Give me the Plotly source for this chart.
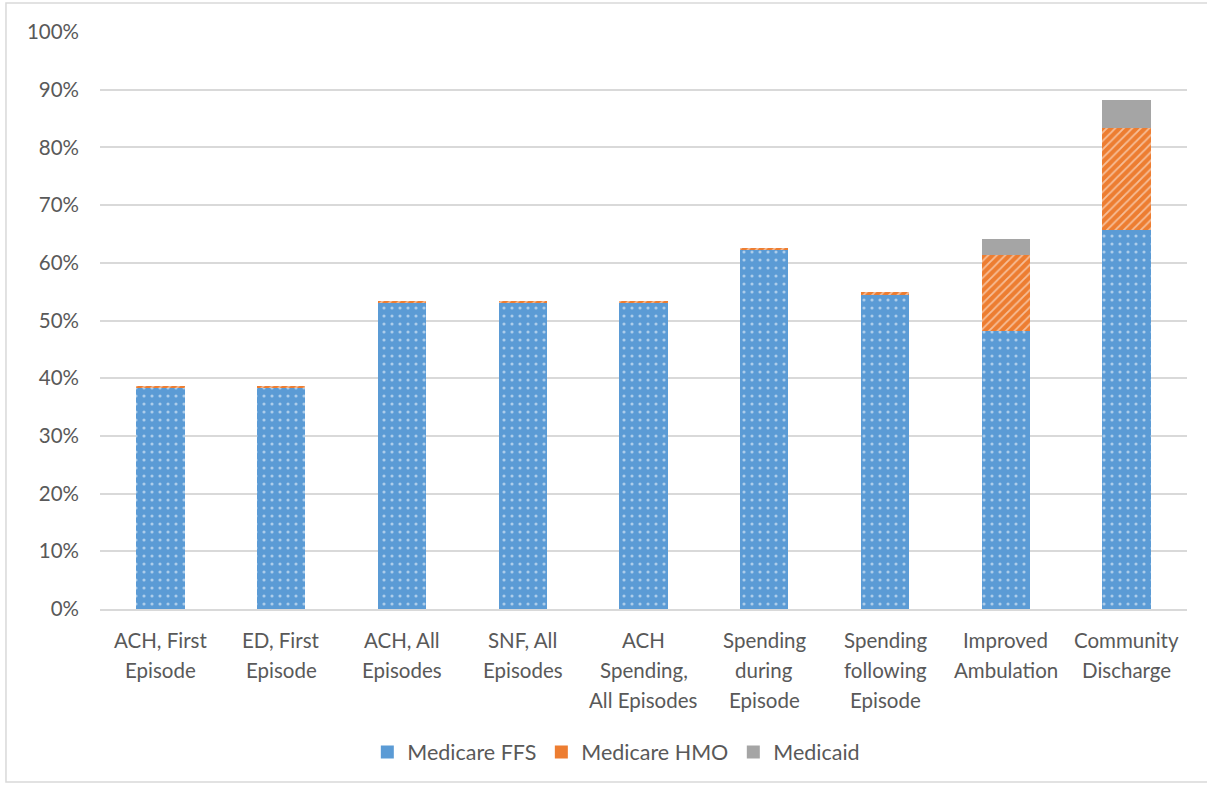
import plotly.graph_objects as go

# Payer mix by outcome measure (share of episodes, %)
categories = [
    "ACH, First<br>Episode",
    "ED, First<br>Episode",
    "ACH, All<br>Episodes",
    "SNF, All<br>Episodes",
    "ACH<br>Spending,<br>All Episodes",
    "Spending<br>during<br>Episode",
    "Spending<br>following<br>Episode",
    "Improved<br>Ambulation",
    "Community<br>Discharge",
]
medicare_ffs = [38.4, 38.4, 53.0, 53.0, 53.0, 62.2, 54.5, 48.2, 65.7]
medicare_hmo = [0.3, 0.3, 0.4, 0.4, 0.4, 0.4, 0.4, 13.15, 17.6]
medicaid = [0.0, 0.0, 0.0, 0.0, 0.0, 0.0, 0.0, 2.75, 5.0]
y_ticks = list(range(0, 101, 10))
y_tick_text = [f"{v}%" for v in y_ticks]

BLUE = "#5b9bd5"
ORANGE = "#ed7d31"
GREY = "#a5a5a5"
TEXT = "#595959"
GRID = "#d9d9d9"
FONT = "Lato, 'Open Sans', sans-serif"

xs = list(range(len(categories)))

fig = go.Figure()
fig.add_trace(go.Bar(
    x=xs, y=medicare_ffs, name="Medicare FFS", showlegend=False,
    marker=dict(color=BLUE, line=dict(width=0),
                pattern=dict(shape=".", fgcolor="white", bgcolor=BLUE,
                             size=8, solidity=0.12)),
))
fig.add_trace(go.Bar(
    x=xs, y=medicare_hmo, name="Medicare HMO", showlegend=False,
    marker=dict(color=ORANGE, line=dict(width=0),
                pattern=dict(shape="/", fgcolor="white", bgcolor=ORANGE,
                             size=6, solidity=0.3)),
))
fig.add_trace(go.Bar(
    x=xs, y=medicaid, name="Medicaid", showlegend=False,
    marker=dict(color=GREY, line=dict(width=0)),
))

# Solid square swatches for the legend
for name, col in [("Medicare FFS", BLUE), ("Medicare HMO", ORANGE), ("Medicaid", GREY)]:
    fig.add_trace(go.Scatter(x=[None], y=[None], name=name, mode="markers",
                             marker=dict(color=col, symbol="square", size=13)))

# Category labels, one annotation per line for wider line spacing
for i, lab in enumerate(categories):
    for j, line in enumerate(lab.split("<br>")):
        fig.add_annotation(
            x=i, xref="x", y=0, yref="paper", yanchor="middle",
            yshift=-31 - 30 * j, text=line, showarrow=False,
            font=dict(family=FONT, size=20.5, color=TEXT),
        )

# Outer chart border
fig.add_shape(type="rect", xref="paper", yref="paper",
              x0=-0.0865, x1=1.03, y0=-0.2998, y1=1.0503,
              line=dict(color=GRID, width=1.5), layer="below")

fig.update_layout(
    width=1207, height=786,
    margin=dict(l=100, r=20, t=32, b=177),
    paper_bgcolor="white", plot_bgcolor="white",
    barmode="stack", bargap=0.6,
    font=dict(family=FONT, size=18, color=TEXT),
    legend=dict(orientation="h", x=0.475, xanchor="center",
                y=-0.248, yanchor="middle", traceorder="normal",
                font=dict(family=FONT, size=21.5, color=TEXT),
                itemwidth=30),
    xaxis=dict(range=[-0.5, len(categories) - 0.5], showticklabels=False,
               showgrid=False, zeroline=False, showline=True,
               linecolor=GRID, linewidth=1.5, ticks=""),
    yaxis=dict(range=[0, 100], tickvals=y_ticks, ticktext=y_tick_text,
               showgrid=True, gridcolor=GRID, gridwidth=1.5,
               zeroline=False, showline=False, ticks="",
               ticklabelstandoff=20,
               tickfont=dict(family=FONT, size=20.5, color=TEXT)),
)

fig.write_html("out.html")
